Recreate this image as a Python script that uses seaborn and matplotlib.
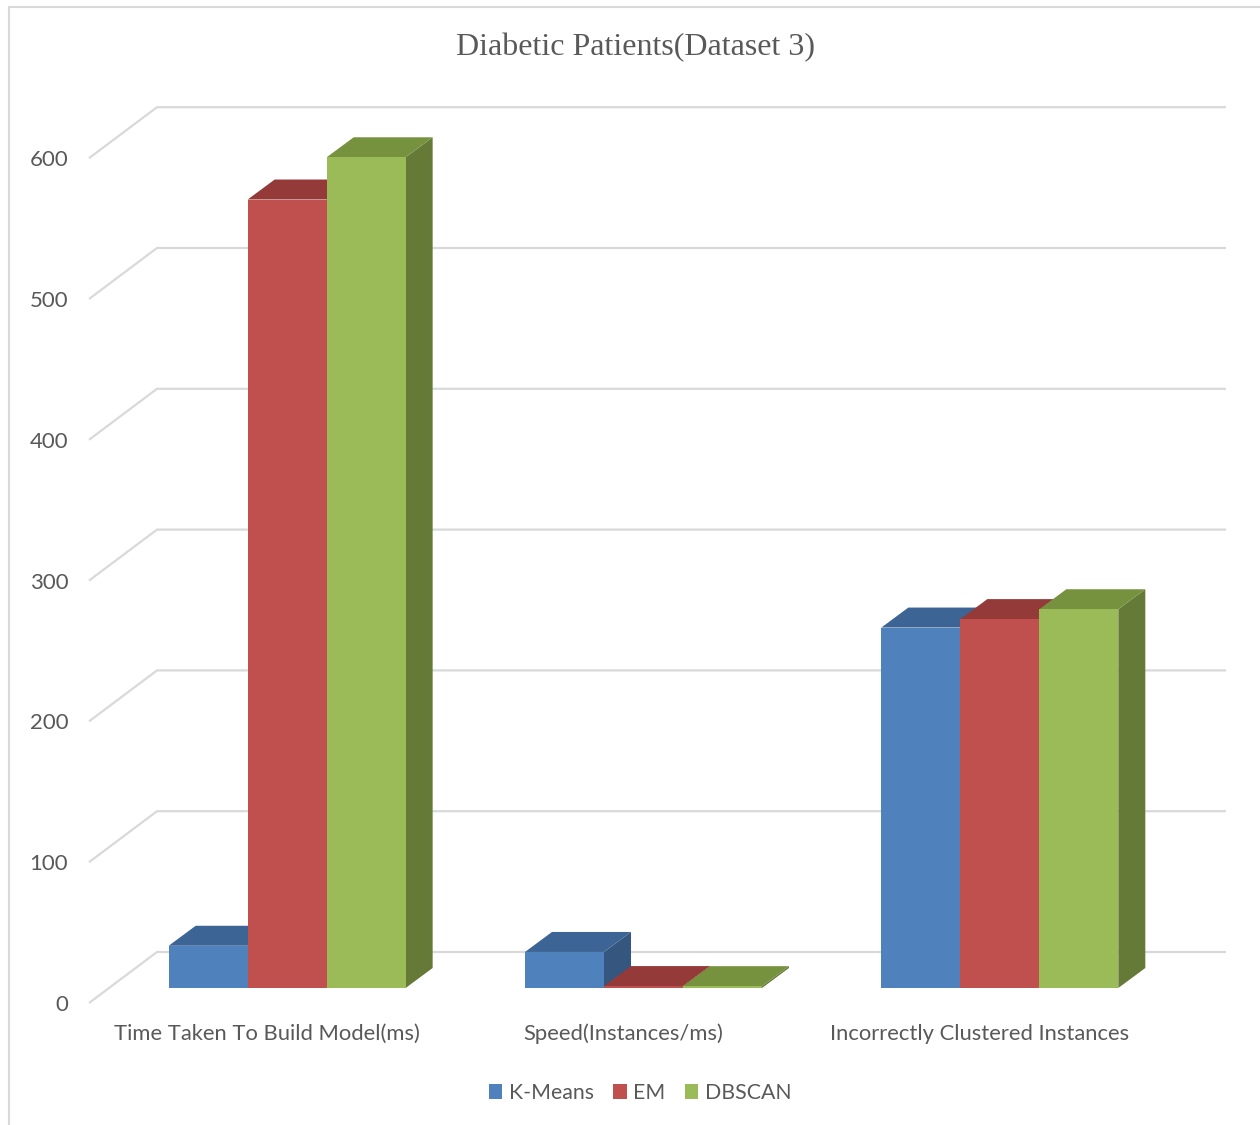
import matplotlib
matplotlib.use("Agg")
import matplotlib.pyplot as plt
import numpy as np
import pandas as pd
import seaborn as sns
from matplotlib.lines import Line2D
from matplotlib.patches import Patch, Polygon
from matplotlib.transforms import IdentityTransform

# ---- data -------------------------------------------------------------
categories = ["Time Taken To Build Model(ms)", "Speed(Instances/ms)",
              "Incorrectly Clustered Instances"]
algorithms = ["K-Means", "EM", "DBSCAN"]
kmeans_values = [30, 25.6, 256]
em_values = [560, 1.37, 262]
dbscan_values = [590, 1.3, 269]
y_ticks = [0, 100, 200, 300, 400, 500, 600]
title = "Diabetic Patients(Dataset 3)"

# ---- styling ------------------------------------------------------------
front_colors = ["#4F81BD", "#C0504D", "#9BBB59"]
top_colors = ["#3C6494", "#943B39", "#77923F"]
side_colors = ["#34567F", "#7F322F", "#667A37"]
grid_color = "#D9D9D9"
text_color = "#595959"
label_size = 16

sns.set_theme(style="white")
plt.rcParams["font.family"] = ["Lato", "DejaVu Sans"]

W, H, DPI = 1260, 1125, 100
fig = plt.figure(figsize=(W / DPI, H / DPI), dpi=DPI)

# front plane of the 3-D box (pixel geometry)
left_px, right_px, zero_px = 89, 1158, 1003
px_per_unit = 1.408
y_max = 640
ax = fig.add_axes([left_px / W, (H - zero_px) / H,
                   (right_px - left_px) / W, y_max * px_per_unit / H])

df = pd.DataFrame({
    "metric": categories * 3,
    "algorithm": [a for a in algorithms for _ in categories],
    "value": kmeans_values + em_values + dbscan_values,
})

sns.barplot(data=df, x="metric", y="value", hue="algorithm",
            order=categories, hue_order=algorithms, palette=front_colors,
            saturation=1, width=0.665, linewidth=0, legend=False, ax=ax)

ax.set_xlim(-0.5, 2.5)
ax.set_ylim(0, y_max)
ax.set_yticks(y_ticks)
ax.set_yticklabels([str(t) for t in y_ticks])
ax.set_xlabel("")
ax.set_ylabel("")
for s in ax.spines.values():
    s.set_visible(False)
ax.tick_params(axis="y", length=0, pad=15, labelsize=label_size, labelcolor=text_color)
ax.tick_params(axis="x", length=0, pad=15, labelsize=15.8, labelcolor=text_color)
ax.patch.set_alpha(0)

# ---- depth offsets (pixels) ----------------------------------------------
wall_dx, wall_dy = 68, 51      # front edge -> back wall
bar_dx, bar_dy = 20, 15        # front edge -> bar front faces
depth_dx, depth_dy = 27, 20    # bar thickness

ident = IdentityTransform()
to_px = ax.transData.transform

# side wall diagonals and back wall gridlines
for t in y_ticks:
    (x_l, y_t), = to_px([(-0.5, t)])
    (x_r, _), = to_px([(2.5, t)])
    ax.add_artist(Line2D([x_l, x_l + wall_dx, x_r + wall_dx],
                         [y_t, y_t + wall_dy, y_t + wall_dy],
                         transform=ident, color=grid_color, lw=1.6,
                         zorder=1, clip_on=False, solid_capstyle="butt"))

# extrude each bar: shift the front face and add top and side faces
bars = list(ax.patches)
n_cat = len(categories)
for idx, bar in enumerate(bars):
    hue_i = idx // n_cat
    x0 = bar.get_x()
    x1 = x0 + bar.get_width()
    h = bar.get_height()
    (px0, py0), (px1, pyh) = to_px([(x0, 0), (x1, h)])
    z = 2 + x0 * 0.01
    fx0, fx1 = px0 + bar_dx, px1 + bar_dx
    fy0, fyh = py0 + bar_dy, pyh + bar_dy
    side = Polygon([(fx1, fy0), (fx1 + depth_dx, fy0 + depth_dy),
                    (fx1 + depth_dx, fyh + depth_dy), (fx1, fyh)],
                   closed=True, transform=ident, facecolor=side_colors[hue_i],
                   edgecolor="none", zorder=z, clip_on=False)
    top = Polygon([(fx0, fyh), (fx1, fyh), (fx1 + depth_dx, fyh + depth_dy),
                   (fx0 + depth_dx, fyh + depth_dy)],
                  closed=True, transform=ident, facecolor=top_colors[hue_i],
                  edgecolor="none", zorder=z, clip_on=False)
    front = Polygon([(fx0, fy0), (fx1, fy0), (fx1, fyh), (fx0, fyh)],
                    closed=True, transform=ident,
                    facecolor=front_colors[hue_i], edgecolor="none",
                    zorder=z + 0.001, clip_on=False)
    ax.add_artist(side)
    ax.add_artist(top)
    ax.add_artist(front)
    bar.set_visible(False)

# ---- title, legend, frame -------------------------------------------------
fig.text(636 / W, 1 - 48 / H, title, ha="center", va="center",
         fontsize=23, color=text_color, family=["Liberation Serif", "DejaVu Serif"])

handles = [Patch(facecolor=c, edgecolor="none", label=a)
           for a, c in zip(algorithms, front_colors)]
fig.legend(handles=handles, loc="center", bbox_to_anchor=(640 / W, 1 - 1093 / H),
           ncol=3, frameon=False, fontsize=15.3, labelcolor=text_color,
           handlelength=0.65, handleheight=0.65, handletextpad=0.3,
           columnspacing=0.9)

fig.add_artist(Line2D([9 / W, 9 / W], [0, 1 - 7 / H], transform=fig.transFigure,
                      color=grid_color, lw=1.5))
fig.add_artist(Line2D([9 / W, 1], [1 - 7 / H, 1 - 7 / H], transform=fig.transFigure,
                      color=grid_color, lw=1.5))

fig.savefig("out.png", dpi=DPI, facecolor="white")
